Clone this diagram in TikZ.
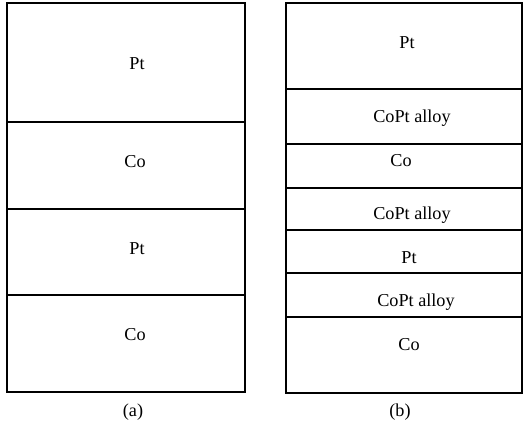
\documentclass[tikz,border=0pt]{standalone}
\usepackage{fontspec}
\setmainfont{Liberation Serif}
\begin{document}
\begin{tikzpicture}[x=1pt,y=-1pt,
  layer/.style={draw=black,line width=1.4pt},
  thin layer/.style={draw=black,line width=1.1pt},
  lbl/.style={font=\fontsize{18.2}{21}\selectfont,inner sep=0pt,anchor=center},
  caption/.style={font=\fontsize{18.2}{21}\selectfont,inner sep=0pt,anchor=center}]
\useasboundingbox (0,0) rectangle (523,436);
% (a) Co/Pt multilayer
\draw[layer] (7,3) rectangle (245,392);
\draw[layer] (7,122) -- (245,122);
\draw[layer] (7,209) -- (245,209);
\draw[layer] (7,295) -- (245,295);
\node[lbl] (a1) at (137,64) {Pt};
\node[lbl] (a2) at (135,162) {Co};
\node[lbl] (a3) at (137,249) {Pt};
\node[lbl] (a4) at (135,335) {Co};
\node[caption] (capa) at (133,412) {(a)};
% (b) multilayer with alloyed interfaces
\draw[layer] (286,3) rectangle (522,393);
\draw[thin layer] (286,89) -- (522,89);
\draw[thin layer] (286,144) -- (522,144);
\draw[thin layer] (286,188) -- (522,188);
\draw[thin layer] (286,230) -- (522,230);
\draw[thin layer] (286,273) -- (522,273);
\draw[thin layer] (286,317) -- (522,317);
\node[lbl] (b1) at (407,43) {Pt};
\node[lbl] (b2) at (412,118) {CoPt alloy};
\node[lbl] (b3) at (401,161) {Co};
\node[lbl] (b4) at (412,215) {CoPt alloy};
\node[lbl] (b5) at (409,258) {Pt};
\node[lbl] (b6) at (416,302) {CoPt alloy};
\node[lbl] (b7) at (409,345) {Co};
\node[caption] (capb) at (400,412) {(b)};
\end{tikzpicture}
\end{document}
